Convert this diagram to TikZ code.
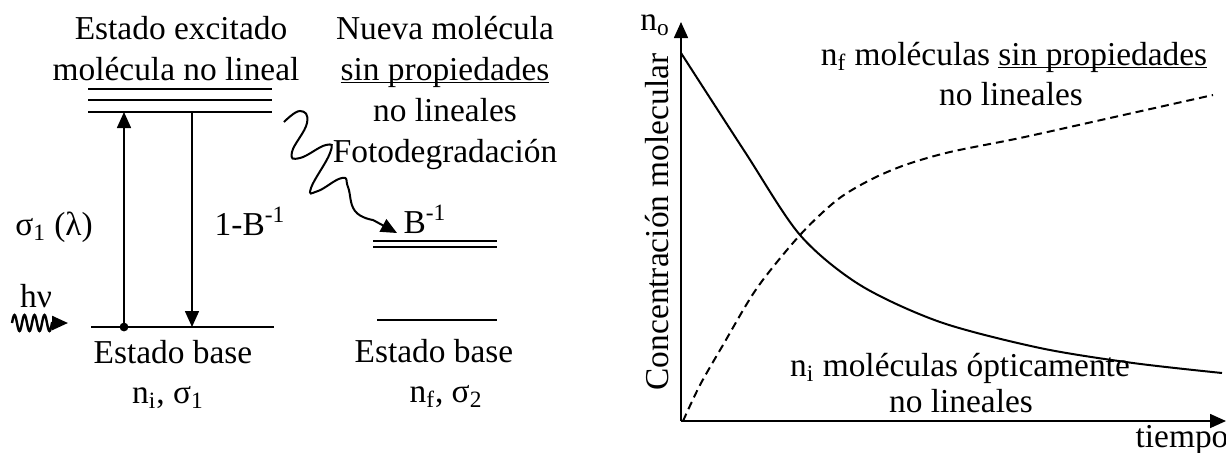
\documentclass[tikz,border=0pt]{standalone}
\usepackage{fontspec}
\setmainfont{Liberation Serif}
\usetikzlibrary{arrows.meta}
\newcommand\lblfont{\fontsize{16.7}{20}\selectfont}
\newcommand\ulin[1]{\underline{\smash{#1}}}
\tikzset{
  lbl/.style={font=\lblfont, inner sep=0pt, anchor=base},
  level/.style={line width=0.8pt},
  trans/.style={line width=0.8pt, -{Triangle[length=8pt,width=7pt]}},
  decay/.style={line width=1pt},
  growth/.style={line width=1pt, dash pattern=on 4pt off 2.5pt},
}
\begin{document}
\begin{tikzpicture}[x=0.5pt,y=-0.5pt]
\useasboundingbox (0,0) rectangle (1226,452);

% left: molecule with nonlinear properties
\node[lbl] (exctitle) at (181,39) {Estado excitado};
\node[lbl] (exctitleb) at (176,80) {molécula no lineal};
\foreach \y in {89,100,112}
  \draw[level] (88,\y) -- (272,\y);
\draw[level] (91,327) -- (274,327);
\coordinate (absbot) at (124,327);
\coordinate (abstop) at (124,112);
\coordinate (relax) at (192,112);
\coordinate (relaxbot) at (192,327);
\draw[trans] (absbot) -- (abstop);
\draw[trans] (relax) -- (relaxbot);
\fill (absbot) circle (2.2pt);
\node[lbl] (sigmaone) at (54,235) {σ\textsubscript{1} (λ)};
\node[lbl] (branch) at (250,235) {1-B\textsuperscript{-1}};
\node[lbl] (photon) at (36,307) {hν};
\coordinate (hvend) at (68,323);
\draw[trans, line width=1.2pt] plot[domain=0:40,samples=81,smooth] ({12+\x},{323-8*sin(36*\x)}) -- (hvend);
\node[lbl] (basel) at (173,363) {Estado base};
\node[lbl] (basela) at (168,403) {n\textsubscript{i}, σ\textsubscript{1}};

% middle: photodegraded molecule
\node[lbl] (newtitle) at (445,39) {Nueva molécula};
\node[lbl] (newtitleb) at (445,80) {\ulin{sin propiedades}};
\node[lbl] (newtitlec) at (445,121) {no lineales};
\node[lbl] (newtitled) at (445,162) {Fotodegradación};
\draw[level] (373,241) -- (497,241);
\draw[level] (373,247) -- (497,247);
\draw[level] (377,320) -- (497,320);
\node[lbl] (bprob) at (425,233) {B\textsuperscript{-1}};
\coordinate (degstart) at (284,122);
\coordinate (degend) at (397,233);
\draw[trans, line width=1pt] plot[smooth,tension=0.8] coordinates {(degstart) (300,111) (307,123)
  (292,152) (300,158) (326,145) (330,153) (311,188) (318,191) (342,178)
  (348,187) (355,211) (373,220)} -- (degend);
\node[lbl] (baser) at (434,362) {Estado base};
\node[lbl] (basera) at (446,402) {n\textsubscript{f}, σ\textsubscript{2}};

% right: concentration versus time
\coordinate (origin) at (681,421);
\coordinate (ytip) at (681,22);
\coordinate (xtip) at (1226,421);
\draw[trans] (origin) -- (ytip);
\draw[trans] (origin) -- (xtip);
\node[lbl] (nzero) at (655,30) {n\textsubscript{o}};
\node[lbl] (timelbl) at (1182,447) {tiempo};
\node[lbl, rotate=90] (conc) at (668,222) {Concentración molecular};
\draw[decay] plot[smooth] coordinates {(681,53) (745,152) (800,235) (860,285)
  (940,322) (1040,348) (1133,363) (1222,373)};
\draw[growth] plot[smooth] coordinates {(683,421) (700,385) (723,345) (757,288) (800,235)
  (837,200) (870,180) (905,165) (950,152) (1020,138) (1110,118) (1213,95)};
\node[lbl] (nflbl) at (1014,65) {n\textsubscript{f} moléculas \ulin{sin propiedades}};
\node[lbl] (nflblb) at (1011,105) {no lineales};
\node[lbl] (nilbl) at (960,376) {n\textsubscript{i} moléculas ópticamente};
\node[lbl] (nilblb) at (961,412) {no lineales};
\end{tikzpicture}
\end{document}
